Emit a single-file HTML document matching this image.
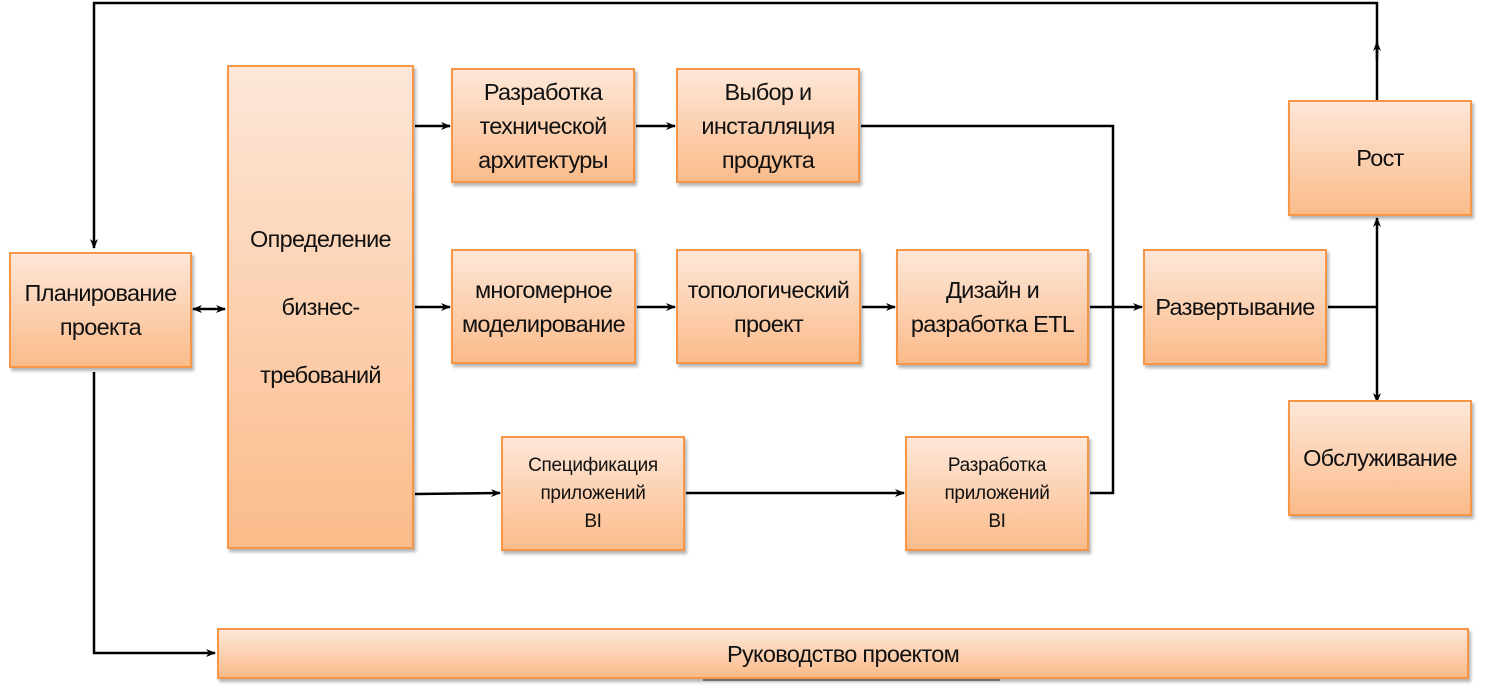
<!DOCTYPE html>
<html><head><meta charset="utf-8"><style>
body{margin:0;width:1486px;height:690px;background:#fff;position:relative;overflow:hidden;font-family:"Liberation Sans",sans-serif;}
.b{position:absolute;box-sizing:border-box;border:2.5px solid #f79646;background:linear-gradient(#fde7d8,#fbbb8a);box-shadow:2px 3px 3px rgba(0,0,0,.3);display:flex;align-items:center;justify-content:center;text-align:center;color:#111;font-size:23.5px;line-height:34px;letter-spacing:-0.7px;white-space:nowrap;}
.s{font-size:19px;line-height:28px;letter-spacing:-0.3px}
svg{position:absolute;left:0;top:0}
</style></head><body>
<svg width="1486" height="690">
<defs><marker id="a" markerWidth="10" markerHeight="8" refX="9" refY="4" orient="auto" markerUnits="userSpaceOnUse"><path d="M0,0 L10,4 L0,8 L3,4z" fill="#000"/></marker>
<marker id="s" markerWidth="10" markerHeight="8" refX="1" refY="4" orient="auto" markerUnits="userSpaceOnUse"><path d="M10,0 L0,4 L10,8 L7,4z" fill="#000"/></marker></defs>
<g stroke="#000" stroke-width="2.5" fill="none">
<polyline points="1377,100 1377,3 94,3 94,248" marker-end="url(#a)"/>
<line x1="1377" y1="60" x2="1377" y2="42" marker-end="url(#a)"/>
<polyline points="94,372 94,653 215,653" marker-end="url(#a)"/>
<line x1="193" y1="309" x2="225" y2="309" marker-start="url(#s)" marker-end="url(#a)"/>
<line x1="415" y1="126" x2="450" y2="126" marker-end="url(#a)"/>
<line x1="415" y1="307" x2="450" y2="307" marker-end="url(#a)"/>
<line x1="415" y1="494" x2="500" y2="493" marker-end="url(#a)"/>
<line x1="636" y1="126" x2="675" y2="126" marker-end="url(#a)"/>
<line x1="637" y1="307" x2="675" y2="307" marker-end="url(#a)"/>
<line x1="862" y1="307" x2="895" y2="307" marker-end="url(#a)"/>
<polyline points="861,126 1113,126 1113,493 1090,493"/>
<line x1="1090" y1="307" x2="1142" y2="307" marker-end="url(#a)"/>
<line x1="686" y1="493" x2="904" y2="493" marker-end="url(#a)"/>
<line x1="1328" y1="307" x2="1377" y2="307"/>
<line x1="1377" y1="307" x2="1377" y2="218" marker-end="url(#a)"/>
<line x1="1377" y1="307" x2="1377" y2="402" marker-end="url(#a)"/>
</g>
<line x1="703" y1="680" x2="1000" y2="680" stroke="#777" stroke-width="1.5"/>
</svg>
<div class="b" style="left:9px;top:252px;width:183px;height:116px">Планирование<br>проекта</div>
<div class="b" style="left:227px;top:65px;width:187px;height:484px;line-height:68px">Определение<br>бизнес-<br>требований</div>
<div class="b" style="left:451px;top:68px;width:184px;height:115px">Разработка<br>технической<br>архитектуры</div>
<div class="b" style="left:676px;top:68px;width:184px;height:115px">Выбор и<br>инсталляция<br>продукта</div>
<div class="b" style="left:451px;top:249px;width:185px;height:115px">многомерное<br>моделирование</div>
<div class="b" style="left:676px;top:249px;width:185px;height:115px">топологический<br>проект</div>
<div class="b" style="left:896px;top:249px;width:193px;height:116px">Дизайн и<br>разработка ETL</div>
<div class="b" style="left:1143px;top:249px;width:184px;height:116px">Развертывание</div>
<div class="b" style="left:1288px;top:100px;width:184px;height:116px">Рост</div>
<div class="b" style="left:1288px;top:400px;width:184px;height:116px">Обслуживание</div>
<div class="b s" style="left:501px;top:436px;width:184px;height:115px">Спецификация<br>приложений<br>BI</div>
<div class="b s" style="left:905px;top:436px;width:184px;height:115px">Разработка<br>приложений<br>BI</div>
<div class="b" style="left:217px;top:628px;width:1252px;height:51px">Руководство проектом</div>
</body></html>
